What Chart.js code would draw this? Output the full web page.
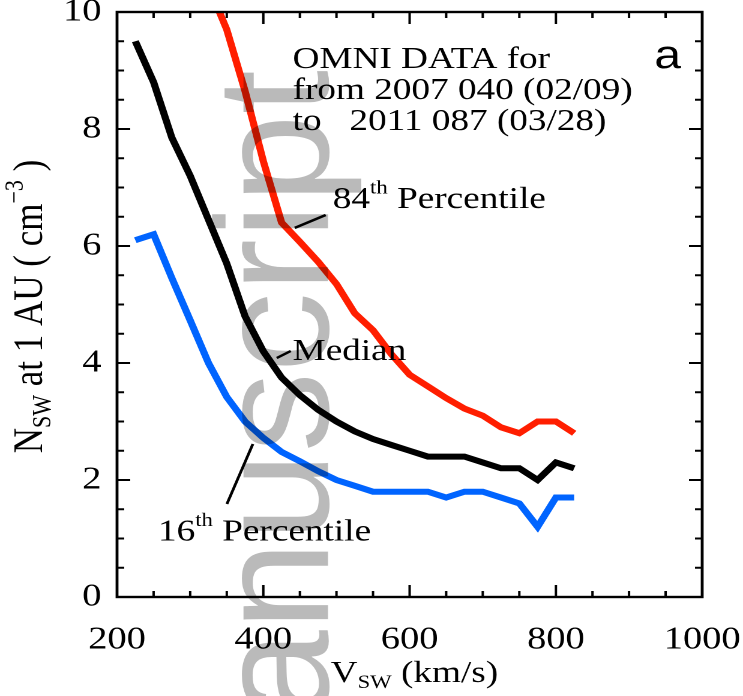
<!DOCTYPE html>
<html>
<head>
<meta charset="utf-8">
<title>Solar wind density vs speed</title>
<script src="https://cdn.jsdelivr.net/npm/chart.js@4.4.1/dist/chart.umd.min.js"></script>
<style>
  html, body { margin: 0; padding: 0; background: #fff; overflow: hidden; }
  /* the original figure is stretched sideways, so the whole canvas is too */
  #chart { display: block; transform-origin: 0 0; transform: scaleX(1.2003); }
</style>
</head>
<body>
<canvas id="chart" width="619" height="696"></canvas>
<script>
// Solar wind speed bins (km/s)
const speeds = [225, 250, 275, 300, 325, 350, 375, 400, 425, 450, 475, 500, 525,
                550, 575, 600, 625, 650, 675, 700, 725, 750, 775, 800, 825];

// Density at 1 AU (cm^-3) per speed bin
const p84 = [null, null, null, null, 10.45, 9.7, 8.65, 7.45, 6.4, 6.07, 5.73, 5.35, 4.85,
             4.56, 4.15, 3.8, 3.6, 3.4, 3.22, 3.1, 2.9, 2.8, 3.0, 3.0, 2.8];
const median = [9.5, 8.8, 7.85, 7.2, 6.45, 5.7, 4.8, 4.2, 3.75, 3.45, 3.2, 3.0, 2.83,
                2.7, 2.6, 2.5, 2.4, 2.4, 2.4, 2.3, 2.2, 2.2, 2.0, 2.3, 2.2];
const p16 = [6.1, 6.2, 5.45, 4.73, 4.0, 3.42, 3.0, 2.72, 2.48, 2.32, 2.15, 2.0, 1.9,
             1.8, 1.8, 1.8, 1.8, 1.7, 1.8, 1.8, 1.7, 1.6, 1.2, 1.7, 1.7];

// Axis tick labels
const xTicks = [200, 400, 600, 800, 1000];
const yTicks = [0, 2, 4, 6, 8, 10];

// Colours
const RED = '#ff1e00';
const BLUE = '#0064ff';
const STRETCH = 1.2003;
const SERIF = '"Liberation Serif", "Times New Roman", serif';

// Text notes, anchored in data units (speed, density)
const notes = [
    { parts: [['OMNI DATA for']], x: 440, y: 9.04 },
    { parts: [['from 2007 040 (02/09)']], x: 440, y: 8.51 },
    { parts: [['to   2011 087 (03/28)']], x: 440, y: 7.98 },
    { parts: [['84'], ['th', 'sup'], [' Percentile']], x: 495, y: 6.65 },
    { parts: [['Median']], x: 440, y: 4.05 },
    { parts: [['16'], ['th', 'sup'], [' Percentile']], x: 256, y: 0.97 }
];
// Leader lines from each label to its curve: [x1, y1, x2, y2] in data units
const leaders = [
    [443.0, 6.31, 485.3, 6.53],
    [418.4, 4.085, 437.5, 4.205],
    [350.2, 1.59, 385.7, 2.615]
];

// Build {x, y} points, skipping bins without a value
function toPoints(values) {
    return speeds.map((s, i) => ({ x: s, y: values[i] })).filter(p => p.y !== null);
}

// Draw a run of text with optional super/subscripts, returns its width
function drawRich(ctx, parts, x, y, size, measureOnly) {
    let cx = x;
    parts.forEach(([t, kind]) => {
        const fs = kind ? Math.round(size * 0.62) : size;
        ctx.font = `${fs}px ${SERIF}`;
        const dy = kind === 'sup' ? -size * 0.46 : kind === 'sub' ? size * 0.2 : 0;
        if (!measureOnly) ctx.fillText(t, cx, y + dy);
        cx += ctx.measureText(t).width;
    });
    return cx - x;
}

// Box frame with inward major/minor ticks on all four sides
const framePlugin = {
    id: 'frame',
    afterDatasetsDraw(chart) {
        const { ctx, chartArea: a, scales: { x, y } } = chart;
        ctx.save();
        ctx.strokeStyle = '#000';
        ctx.lineWidth = 2.4;
        ctx.strokeRect(a.left, a.top, a.right - a.left, a.bottom - a.top);
        ctx.lineWidth = 2;
        ctx.beginPath();
        for (let v = x.min; v <= x.max; v += 50) {
            const px = x.getPixelForValue(v);
            const len = v % 200 === 0 ? 12 : 6;
            ctx.moveTo(px, a.bottom); ctx.lineTo(px, a.bottom - len);
            ctx.moveTo(px, a.top); ctx.lineTo(px, a.top + len);
        }
        for (let v = y.min; v <= y.max; v += 0.5) {
            const py = y.getPixelForValue(v);
            const len = v % 2 === 0 ? 11 : 6;
            ctx.moveTo(a.left, py); ctx.lineTo(a.left + len, py);
            ctx.moveTo(a.right, py); ctx.lineTo(a.right - len, py);
        }
        ctx.stroke();
        ctx.restore();
    }
};

// Labels, leader lines, axis titles and the manuscript watermark
const notesPlugin = {
    id: 'notes',
    afterDraw(chart) {
        const { ctx, chartArea: a, scales: { x, y } } = chart;
        ctx.save();
        ctx.fillStyle = '#000';
        ctx.textAlign = 'left';
        ctx.textBaseline = 'alphabetic';

        notes.forEach(n => {
            drawRich(ctx, n.parts, x.getPixelForValue(n.x), y.getPixelForValue(n.y), 31);
        });

        ctx.strokeStyle = '#000';
        ctx.lineWidth = 2.4;
        ctx.beginPath();
        leaders.forEach(([x1, y1, x2, y2]) => {
            ctx.moveTo(x.getPixelForValue(x1), y.getPixelForValue(y1));
            ctx.lineTo(x.getPixelForValue(x2), y.getPixelForValue(y2));
        });
        ctx.stroke();

        // panel letter
        ctx.font = '40px "Liberation Sans", Arial, sans-serif';
        ctx.fillText('a', x.getPixelForValue(934.5), y.getPixelForValue(9.04));

        // x title
        const xParts = [['V'], ['SW', 'sub'], [' (km/s)']];
        const xw = drawRich(ctx, xParts, 0, 0, 31, true);
        drawRich(ctx, xParts, (a.left + a.right) / 2 - xw / 2 + 4, 682, 31);

        // y title, rotated
        const yParts = [['N'], ['SW', 'sub'], [' at 1 AU ( cm'], ['\u22123', 'sup'], [' )']];
        const yw = drawRich(ctx, yParts, 0, 0, 35, true);
        ctx.save();
        ctx.translate(35, (a.top + a.bottom) / 2 + 2);
        ctx.rotate(-Math.PI / 2);
        drawRich(ctx, yParts, -yw / 2, 0, 35);
        ctx.restore();

        // watermark, drawn unstretched
        ctx.save();
        ctx.globalCompositeOperation = 'multiply';
        ctx.scale(1 / STRETCH, 1);
        ctx.translate(328, 70);
        ctx.rotate(-Math.PI / 2);
        ctx.font = '160px "Liberation Sans", Arial, sans-serif';
        ctx.textAlign = 'right';
        ctx.fillStyle = '#bababa';
        ctx.fillText('Manuscript', 0, 0);
        ctx.restore();

        ctx.restore();
    }
};

const tickFont = { family: SERIF, size: 32 };

new Chart(document.getElementById('chart'), {
    type: 'line',
    data: {
        datasets: [
            { label: '84th Percentile', data: toPoints(p84), borderColor: RED },
            { label: 'Median', data: toPoints(median), borderColor: '#000000' },
            { label: '16th Percentile', data: toPoints(p16), borderColor: BLUE }
        ]
    },
    options: {
        responsive: false,
        animation: false,
        devicePixelRatio: 2,
        layout: { padding: { top: 12, right: 34, left: 0, bottom: 0 } },
        elements: {
            point: { radius: 0 },
            line: { borderWidth: 6, tension: 0, fill: false }
        },
        plugins: {
            legend: { display: false },
            tooltip: { enabled: false }
        },
        scales: {
            x: {
                type: 'linear',
                min: 200,
                max: 1000,
                grid: { display: false },
                border: { display: false },
                afterBuildTicks: s => { s.ticks = xTicks.map(v => ({ value: v })); },
                afterFit: s => { s.height = 99; s.paddingLeft = 0; s.paddingRight = 0; },
                ticks: {
                    font: tickFont, color: '#000', padding: 16, maxRotation: 0, autoSkip: false,
                    callback: v => String(v)
                }
            },
            y: {
                type: 'linear',
                min: 0,
                max: 10,
                grid: { display: false },
                border: { display: false },
                afterBuildTicks: s => { s.ticks = yTicks.map(v => ({ value: v })); },
                afterFit: s => { s.width = 97.5; s.paddingTop = 0; s.paddingBottom = 0; },
                ticks: { font: tickFont, color: '#000', padding: 5, autoSkip: false, callback: v => String(v) }
            }
        }
    },
    plugins: [framePlugin, notesPlugin]
});
</script>
</body>
</html>
